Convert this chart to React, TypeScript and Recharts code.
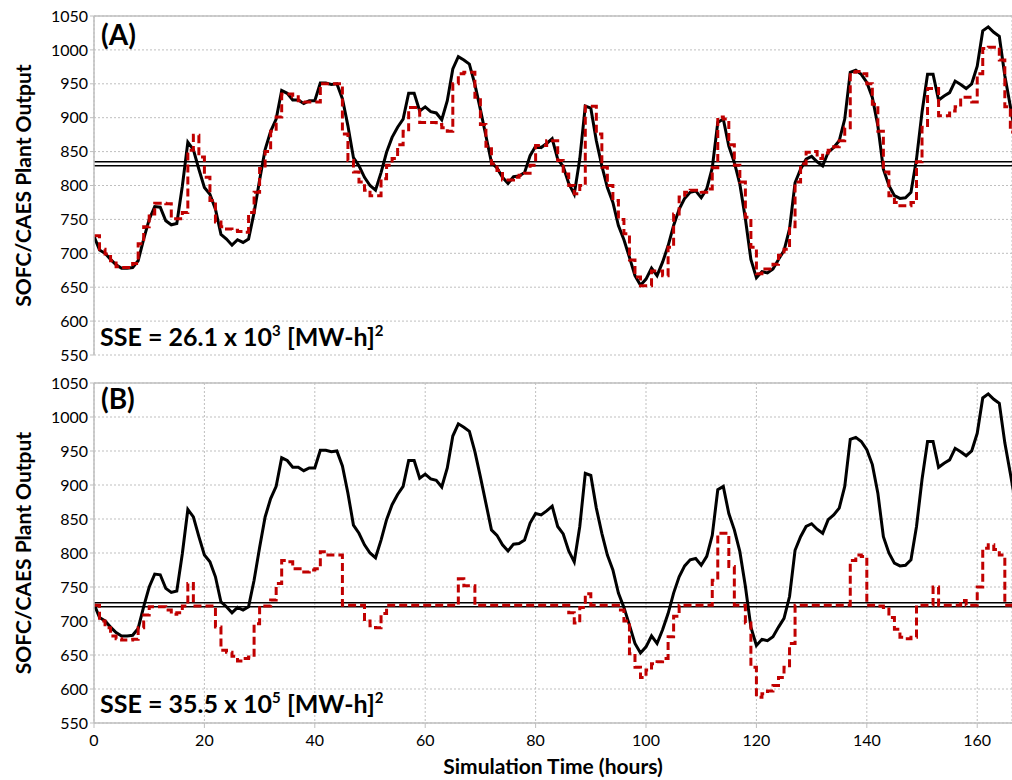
import React from 'react';
import { LineChart, Line, XAxis, YAxis, CartesianGrid, ReferenceLine } from 'recharts';

const hours = Array.from({ length: 168 }, (_, i) => i);

// load demand (black solid), same in both panels
const demand = [
  725, 705, 700, 691, 683, 678, 678, 679, 689, 721,
  750, 769, 768, 748, 742, 744, 799, 864, 853, 824,
  797, 787, 765, 728, 721, 712, 720, 716, 721, 760,
  808, 853, 880, 898, 940, 936, 926, 926, 921, 925,
  925, 951, 951, 949, 950, 928, 888, 841, 829, 812,
  800, 793, 819, 849, 871, 886, 898, 936, 936, 910,
  916, 909, 907, 897, 925, 972, 990, 985, 979, 949,
  912, 873, 834, 826, 812, 803, 813, 814, 819, 844,
  858, 856, 862, 869, 839, 828, 803, 787, 839, 917,
  914, 866, 829, 797, 775, 741, 720, 694, 667, 653,
  662, 678, 667, 687, 711, 741, 765, 781, 790, 792,
  782, 795, 826, 893, 898, 858, 834, 802, 751, 691,
  664, 673, 671, 677, 691, 704, 736, 804, 824, 839,
  843, 835, 829, 849, 856, 866, 898, 967, 970, 964,
  952, 930, 888, 824, 800, 785, 781, 782, 790, 839,
  908, 964, 964, 926, 932, 937, 954, 949, 943, 950,
  976, 1028, 1034, 1026, 1020, 962, 917, 870,
];

// plant output, case A (red dashed, stepped)
const outputA = [
  726, 706, 699, 689, 680, 679, 679, 685, 714, 739,
  758, 774, 774, 773, 751, 751, 760, 852, 874, 842,
  812, 778, 746, 739, 736, 734, 732, 731, 760, 790,
  825, 850, 880, 901, 935, 935, 931, 925, 923, 923,
  923, 950, 950, 950, 950, 876, 837, 820, 805, 793,
  785, 785, 810, 830, 840, 860, 880, 915, 915, 893,
  893, 893, 890, 885, 880, 950, 965, 967, 967, 930,
  890, 858, 832, 822, 808, 808, 812, 815, 818, 830,
  859, 859, 866, 866, 837, 817, 800, 788, 800, 917,
  917, 876, 827, 800, 778, 750, 729, 690, 665, 652,
  652, 674, 674, 667, 709, 758, 783, 790, 793, 793,
  790, 795, 826, 901, 898, 860, 830, 805, 753, 709,
  670, 677, 677, 684, 697, 706, 739, 805, 832, 849,
  850, 840, 848, 852, 857, 866, 885, 967, 968, 965,
  950, 920, 880, 820, 785, 775, 770, 770, 775, 835,
  886, 943, 943, 903, 903, 910, 916, 930, 930, 923,
  965, 1002, 1004, 1004, 985, 916, 879, 879,
];

// plant output, case B
const outputB = [
  723, 700, 690, 678, 674, 672, 672, 673, 690, 709,
  721, 721, 721, 716, 710, 712, 722, 755, 722, 722,
  722, 722, 691, 657, 654, 648, 641, 645, 647, 696,
  722, 722, 731, 755, 789, 787, 777, 777, 772, 775,
  777, 802, 797, 797, 797, 723, 723, 723, 723, 700,
  693, 690, 711, 723, 723, 723, 723, 723, 723, 723,
  723, 723, 723, 723, 723, 723, 762, 752, 752, 723,
  723, 723, 723, 723, 723, 723, 723, 723, 723, 723,
  723, 723, 723, 723, 723, 723, 712, 697, 720, 740,
  723, 723, 723, 723, 723, 716, 700, 652, 632, 617,
  628, 637, 640, 645, 677, 707, 723, 723, 723, 723,
  723, 723, 760, 829, 829, 780, 723, 723, 697, 632,
  588, 593, 597, 605, 617, 632, 667, 723, 723, 723,
  723, 723, 723, 723, 723, 723, 723, 789, 797, 795,
  723, 723, 722, 720, 705, 688, 676, 674, 676, 723,
  723, 723, 750, 723, 723, 723, 723, 730, 723, 723,
  750, 807, 812, 805, 797, 723, 723, 723,
];

const bandA = [829, 835];
const bandB = [721, 727];

const yTicks = [550, 600, 650, 700, 750, 800, 850, 900, 950, 1000, 1050];
const xTicks = [0, 20, 40, 60, 80, 100, 120, 140, 160];

const dataA = hours.map((h, i) => ({ hour: h, demand: demand[i], plant: outputA[i] }));
const dataB = hours.map((h, i) => ({ hour: h, demand: demand[i], plant: outputB[i] }));

const FONT = 'Lato, "Open Sans", sans-serif';
const GRID = '#bfbfbf';

const YTitle = (props: any) => {
  const vb = props.viewBox;
  const cx = 22;
  const cy = vb.y + vb.height / 2;
  return (
    <text
      x={cx}
      y={cy}
      transform={`rotate(-90 ${cx} ${cy})`}
      textAnchor="middle"
      dominantBaseline="central"
      fontFamily={FONT}
      fontWeight={700}
      fontSize={21}
      fill="#000"
    >
      SOFC/CAES Plant Output
    </text>
  );
};

const XTitle = (props: any) => {
  const vb = props.viewBox;
  return (
    <text
      x={vb.x + vb.width / 2}
      y={vb.y + 51}
      textAnchor="middle"
      fontFamily={FONT}
      fontWeight={700}
      fontSize={21}
      fill="#000"
    >
      Simulation Time (hours)
    </text>
  );
};

const overlayText: React.CSSProperties = {
  position: 'absolute',
  fontFamily: FONT,
  fontWeight: 700,
  color: '#000',
  whiteSpace: 'nowrap',
  lineHeight: 1,
};

const sup: React.CSSProperties = { fontSize: 15, verticalAlign: 10 };

const Panel = ({ data, band, bottom, height, tag, sse, exp }: any) => (
  <div style={{ position: 'relative', width: 1012, height }}>
    <LineChart
      width={1012}
      height={height}
      data={data}
      margin={{ top: bottom ? 13 : 16, right: 0, bottom: bottom ? 0 : 15, left: 0 }}
    >
      <CartesianGrid strokeDasharray="2 2" stroke={GRID} />
      <XAxis
        type="number"
        dataKey="hour"
        domain={[0, 166.3]}
        allowDataOverflow
        ticks={xTicks}
        height={bottom ? 57 : 0}
        tick={bottom ? { fill: '#000', fontSize: 16, fontFamily: FONT } : false}
        tickLine={bottom ? { stroke: GRID } : false}
        tickSize={5}
        tickMargin={7}
        axisLine={{ stroke: GRID, strokeWidth: 1.5 }}
        label={bottom ? XTitle : undefined}
      />
      <YAxis
        type="number"
        domain={[550, 1050]}
        ticks={yTicks}
        width={94}
        allowDataOverflow
        tick={{ fill: '#000', fontSize: 16, fontFamily: FONT }}
        tickLine={{ stroke: GRID }}
        tickSize={4}
        tickMargin={2}
        axisLine={{ stroke: GRID, strokeWidth: 1.5 }}
        label={YTitle}
      />
      <ReferenceLine y={1050} stroke={GRID} strokeWidth={1.5} />
      <ReferenceLine y={band[0]} stroke="#000" strokeWidth={1.5} />
      <ReferenceLine y={band[1]} stroke="#000" strokeWidth={1.5} />
      <Line
        type="linear"
        dataKey="demand"
        stroke="#000"
        strokeWidth={3}
        dot={false}
        isAnimationActive={false}
      />
      <Line
        type="stepAfter"
        dataKey="plant"
        stroke="#c00000"
        strokeWidth={3}
        strokeDasharray="8 4"
        dot={false}
        isAnimationActive={false}
      />
    </LineChart>
    <div style={{ ...overlayText, left: 101, top: bottom ? 14 : 20, fontSize: 28 }}>{tag}</div>
    <div style={{ ...overlayText, left: 100, top: bottom ? 320 : 323, fontSize: 25 }}>
      SSE = {sse} x 10<sup style={sup}>{exp}</sup> [MW-h]<sup style={sup}>2</sup>
    </div>
  </div>
);

export default function App() {
  return (
    <div style={{ position: 'absolute', left: 0, top: 0, width: 1012, height: 780, background: '#fff' }}>
      <Panel data={dataA} band={bandA} bottom={false} height={370} tag="(A)" sse="26.1" exp="3" />
      <Panel data={dataB} band={bandB} bottom height={410} tag="(B)" sse="35.5" exp="5" />
    </div>
  );
}
